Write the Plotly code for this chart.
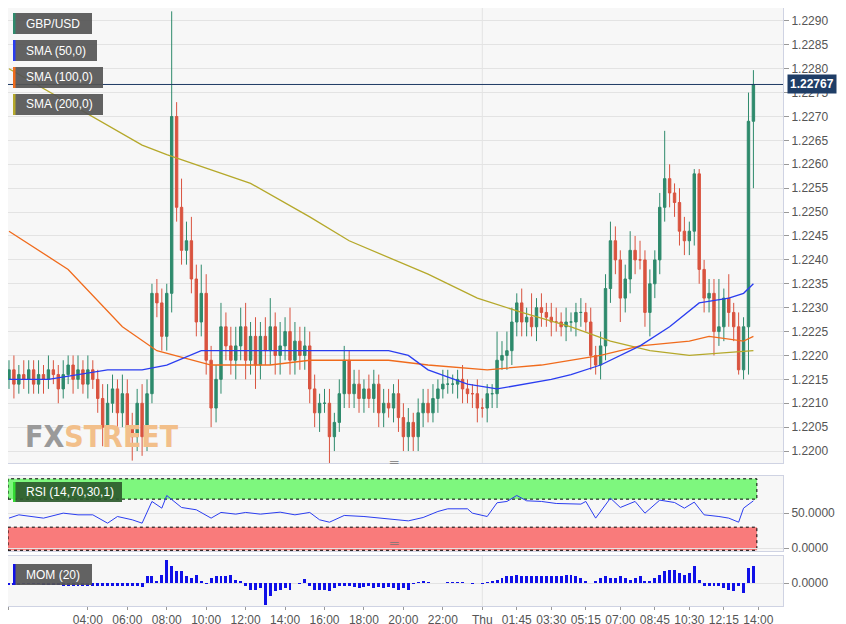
import plotly.graph_objects as go
from plotly.subplots import make_subplots

close = [1.2217,1.2214,1.2216,1.2215,1.2217,1.2214,1.2216,1.2215,1.2217,1.2216,1.2213,1.2216,1.2218,1.2215,1.2217,1.2214,1.2217,1.2215,
         1.2211,1.2205,1.2210,1.2213,1.2208,1.2212,1.2205,1.2203,1.2210,1.2203,
         1.2212,1.2233,1.2231,1.2224,1.2233,1.2270,1.2251,1.2242,1.2244,1.2236,1.2227,1.2233,1.2219,1.2209,
         1.2215,1.2226,1.2222,1.2219,1.2222,1.2226,1.2219,1.2224,1.2218,1.2224,1.2221,1.2226,1.2220,1.2222,1.2225,1.2219,1.2223,1.2220,1.2222,
         1.2213,1.2208,1.2210,1.2210,1.2203,1.2206,1.2212,1.2219,1.2212,1.2214,1.2211,1.2213,1.2211,1.2214,1.2208,1.2210,1.2209,1.2212,1.2207,1.2203,1.2206,1.2203,1.2208,1.2210,
         1.2208,1.2211,1.2213,1.2214,1.2214,1.2214,1.2215,1.2213,1.2212,1.2212,1.2209,1.2209,1.2212,1.2212,
         1.2219,1.2220,1.2221,1.2227,1.2231,1.2227,1.2228,1.2226,1.2230,1.2229,1.2228,1.2227,1.2227,1.2226,1.2227,1.2227,1.2229,1.2229,1.2227,1.2220,1.2218,1.2222,
         1.2234,1.2244,1.2240,1.2232,1.2236,1.2242,1.2240,1.2240,1.2229,1.2235,1.2240,1.2251,1.2257,1.2254,1.2252,1.2246,1.2244,1.2246,1.2258,1.2238,1.2232,1.2233,1.2225,1.2226,1.2232,1.2229,1.2226,1.2217,1.2226,1.2269,1.22767]
first_open = 1.2215
upper_wick_pips = [2,3,2,3,2,2,3,2,3,2,2,3,2,2,3,2,3,2,
                   2,3,4,3,2,4,3,3,3,4,
                   3,2,3,3,2,22,3,6,4,5,3,6,4,3,
                   3,5,3,4,4,4,5,3,4,3,4,6,3,5,3,5,4,3,4,
                   3,3,2,3,3,2,3,3,2,3,3,2,3,3,2,3,3,2,3,3,3,2,3,3,
                   3,3,2,3,3,2,2,3,2,2,3,2,2,2,
                   6,3,4,3,2,3,2,5,2,3,2,3,3,2,3,2,2,3,2,3,2,3,
                   3,4,3,2,3,4,3,4,2,3,2,3,10,3,2,3,3,2,1,1,2,3,3,10,2,5,2,3,2,6,3]
lower_wick_pips = [2,3,2,2,3,2,2,3,2,2,3,2,2,3,2,2,3,2,
                   3,4,4,2,3,3,3,5,3,4,
                   3,2,3,3,3,4,3,3,3,3,3,3,3,4,
                   3,3,3,3,4,3,4,3,5,3,3,3,4,4,3,3,3,3,3,
                   3,3,4,2,6,3,2,3,3,3,3,3,2,3,3,3,2,3,3,3,3,3,3,3,
                   2,2,3,2,2,2,3,3,2,3,3,2,3,3,
                   3,2,3,3,3,3,3,2,3,3,2,3,2,2,3,2,3,3,2,3,2,3,
                   3,3,3,5,3,3,3,2,3,5,3,3,3,3,3,3,3,3,3,3,3,3,5,3,3,3,3,1,2,10,14]

sma50_bars = [0,8,20,27,32,39,51,61,67,77,81,85,93,99,110,114,120,128,134,140,146,149,151]
sma50_vals = [1.2215,1.2215,1.2217,1.2217,1.2218,1.2221,1.2221,1.2221,1.2221,1.2221,1.2220,1.2217,1.2214,1.2213,1.2215,1.2216,1.2218,1.2222,1.2226,1.2231,1.2232,1.2233,1.2235]
sma100_bars = [0,12,23,30,41,53,61,77,85,97,108,120,128,138,142,149,151]
sma100_vals = [1.2246,1.2238,1.2226,1.2221,1.2218,1.2218,1.2219,1.2219,1.2218,1.2217,1.2218,1.2220,1.2222,1.2223,1.2224,1.2223,1.2224]
sma200_bars = [0,27,32,49,61,69,85,95,104,114,122,130,138,151]
sma200_vals = [1.2280,1.2264,1.2262,1.2256,1.2249,1.2244,1.2237,1.2232,1.2229,1.2226,1.2223,1.2221,1.2220,1.2221]

rsi_bars = [0,2,7,11,14,17,20,22,25,27,29,31,32,35,38,41,43,46,48,51,55,58,61,63,65,68,72,76,81,84,87,89,93,94,97,99,101,103,105,108,111,116,117,119,122,124,127,129,132,135,137,139,141,144,146,148,149,151]
rsi_vals = [42.9,47.6,42.9,50,47.6,47.6,35.7,45.2,40.5,35.7,66.7,57.1,75.2,58.1,54.8,42.9,51,48.6,51,48.6,51.4,47.6,51,40.5,37.1,46.7,45.2,42.9,39,43.8,52.4,56.2,56.2,50,45.2,64.8,66.7,75.2,67.6,66.7,63.8,62.9,66.7,42.9,71.4,58.1,66.7,50,68.6,65.2,57.1,65.7,47.6,45.2,42.9,37.1,57.1,67.6]

mom_pips = [-5,-5,-5,-3,-3,-3,-3,-5,-5,-5,-5,-8,-8,-8,-8,-8,-8,-10,-10,-10,-10,-10,-8,-10,-8,-10,-8,-12,
            20,20,5,25,70,50,35,35,20,15,25,5,-3,15,20,20,20,25,10,5,-10,-20,-20,-15,-65,
            -40,-25,-20,-15,-20,0,-3,12,-10,-20,-20,-20,-25,-15,
            -10,-10,-8,-12,-15,-12,-10,-15,-12,-15,-12,-15,-20,-15,-20,
            -2,3,5,3,0,0,0,3,3,3,3,0,-3,0,-3,2,
            5,10,15,20,20,25,22,20,20,20,20,20,20,20,22,25,25,20,15,5,0,
            5,15,20,15,15,20,15,10,15,20,5,5,15,25,35,40,40,30,25,30,50,
            10,-10,-10,-10,-10,-15,-20,-25,-10,-30,45,50]

tick_bars = [0,16,24,32,40,48,56,64,72,80,88,96,103,110,117,124,131,138,145,152]
tick_text = ["Wed","04:00","06:00","08:00","10:00","12:00","14:00","16:00","18:00","20:00","22:00","Thu","01:45","03:30","05:15","07:00","08:45","10:30","12:15","14:00"]
price_ticks = [1.2200,1.2205,1.2210,1.2215,1.2220,1.2225,1.2230,1.2235,1.2240,1.2245,1.2250,1.2255,1.2260,1.2265,1.2270,1.2275,1.2280,1.2285,1.2290]
last_price = 1.22767

n = len(close)
bars = list(range(n))
opens = [first_open] + close[:-1]
highs = [max(o, c) + u * 0.0001 for o, c, u in zip(opens, close, upper_wick_pips)]
lows = [min(o, c) - l * 0.0001 for o, c, l in zip(opens, close, lower_wick_pips)]
mom = [m * 0.0001 for m in mom_pips]

fig = make_subplots(rows=3, cols=1, shared_xaxes=False)
GREEN = "#2e8a6c"; RED = "#d9533f"
fig.add_trace(go.Candlestick(x=bars, open=opens, high=highs, low=lows, close=close,
    increasing=dict(line=dict(color=GREEN, width=1), fillcolor=GREEN),
    decreasing=dict(line=dict(color=RED, width=1), fillcolor=RED),
    whiskerwidth=0, showlegend=False), row=1, col=1)
fig.add_trace(go.Scatter(x=sma200_bars, y=sma200_vals, mode="lines", line=dict(color="#b5a82a", width=1.3), showlegend=False), row=1, col=1)
fig.add_trace(go.Scatter(x=sma100_bars, y=sma100_vals, mode="lines", line=dict(color="#f06b1c", width=1.3), showlegend=False), row=1, col=1)
fig.add_trace(go.Scatter(x=sma50_bars, y=sma50_vals, mode="lines", line=dict(color="#2a3df0", width=1.3), showlegend=False), row=1, col=1)
fig.add_trace(go.Scatter(x=rsi_bars, y=rsi_vals, mode="lines", line=dict(color="#2a3df0", width=1), showlegend=False), row=2, col=1)
fig.add_trace(go.Bar(x=bars, y=mom, marker=dict(color="#1010e8", line=dict(width=0)), width=0.6, showlegend=False), row=3, col=1)

xr = [-0.2, 157.0]
grid = "#e3e3e3"
axfont = dict(family="Liberation Sans, Arial", size=12, color="#555")
common_x = dict(range=xr, showgrid=False, zeroline=False, tickvals=[96], showticklabels=False,
                showline=True, linecolor="#cfd3e3", mirror=True)
PW, PH = 775.0, 598.0
fig.update_layout(
    width=846, height=624, margin=dict(l=0, r=71, t=0, b=26),
    paper_bgcolor="white", plot_bgcolor="#f7f7f7", bargap=0,
    xaxis=dict(common_x, domain=[0, 1], rangeslider=dict(visible=False), anchor="y"),
    xaxis2=dict(common_x, domain=[0, 1], anchor="y2"),
    xaxis3=dict(range=xr, domain=[0, 1], anchor="y3", showgrid=False, zeroline=False,
                tickvals=tick_bars, ticktext=tick_text, tickfont=axfont, ticks="outside", ticklen=3,
                tickcolor="#999", showline=True, linecolor="#cfd3e3", mirror=True),
    yaxis=dict(domain=[1 - 455 / PH, 1], range=[1.21975, 1.22927], side="right", tickvals=price_ticks,
               tickformat=".4f", tickfont=axfont, gridcolor=grid, zeroline=False, ticks="outside",
               ticklen=5, tickcolor="#999", showline=True, linecolor="#cfd3e3", mirror=True),
    yaxis2=dict(domain=[1 - 543 / PH, 1 - 468 / PH], range=[-4, 103], side="right", tickvals=[0, 50],
                ticktext=["0.0000", "50.0000"], tickfont=axfont, gridcolor=grid, zeroline=False,
                ticks="outside", ticklen=5, tickcolor="#999", showline=True, linecolor="#cfd3e3", mirror=True),
    yaxis3=dict(domain=[0, 1 - 548 / PH], range=[-0.0069, 0.0081], side="right", tickvals=[0],
                ticktext=["0.0000"], tickfont=axfont, gridcolor=grid, zeroline=False,
                ticks="outside", ticklen=5, tickcolor="#999", showline=True, linecolor="#cfd3e3", mirror=True),
)
for xa, ya in [("x", "y domain"), ("x2", "y2 domain"), ("x3", "y3 domain")]:
    fig.add_shape(type="line", xref=xa, yref=ya, x0=96, x1=96, y0=0, y1=1, line=dict(color=grid, width=1), layer="below")

fig.add_shape(type="rect", xref="x2", yref="y2", x0=xr[0], x1=151.7, y0=70, y1=99, fillcolor="#7ef77e",
              line=dict(color="black", width=1, dash="dot"), layer="below")
fig.add_shape(type="rect", xref="x2", yref="y2", x0=xr[0], x1=151.7, y0=-3, y1=30, fillcolor="#f97b7b",
              line=dict(color="black", width=1, dash="dot"), layer="below")

fig.add_shape(type="line", xref="x domain", yref="y", x0=0, x1=1, y0=last_price, y1=last_price,
              line=dict(color="#1e3a64", width=1))
fig.add_annotation(xref="x domain", yref="y", x=1.005, y=last_price, text="<b>1.22767</b>", showarrow=False,
                   xanchor="left", bgcolor="#1f3d66", font=dict(color="white", size=12, family="Liberation Sans, Arial"),
                   borderpad=2)

def label(x0, y0, w, h, text, barcolor, bg="#555555"):
    fig.add_shape(type="rect", xref="paper", yref="paper", x0=x0 / PW, x1=(x0 + w) / PW,
                  y0=1 - (y0 + h) / PH, y1=1 - y0 / PH, fillcolor=bg, opacity=0.92, line=dict(width=0))
    fig.add_shape(type="rect", xref="paper", yref="paper", x0=x0 / PW, x1=(x0 + 2.5) / PW,
                  y0=1 - (y0 + h) / PH, y1=1 - y0 / PH, fillcolor=barcolor, line=dict(width=0))
    fig.add_annotation(xref="paper", yref="paper", x=(x0 + 11) / PW, y=1 - (y0 + h / 2) / PH, text=text,
                       showarrow=False, xanchor="left", yanchor="middle",
                       font=dict(color="white", size=12, family="Liberation Sans, Arial"))

label(5, 5, 79, 21, "GBP/USD", "#2e8a6c")
label(5, 32, 84, 21, "SMA (50,0)", "#2a3df0")
label(5, 59, 90, 21, "SMA (100,0)", "#f06b1c")
label(5, 86, 90, 21, "SMA (200,0)", "#b5a82a")
label(5, 474, 109, 20, "RSI (14,70,30,1)", "#33dd33", bg="#2d5a2d")
label(5, 556, 79, 21, "MOM (20)", "#1010e8")

fig.add_annotation(xref="paper", yref="paper", x=15 / PW, y=1 - 428 / PH, xanchor="left", yanchor="middle",
                   text="<span style='color:#9a9a9a'>FX</span><span style='color:#f2bf8a'>STREET</span>",
                   showarrow=False, font=dict(size=30, family="DejaVu Sans Condensed, Liberation Sans Narrow", weight="bold"))
for yp in [464, 545]:
    fig.add_annotation(xref="paper", yref="paper", x=386 / PW, y=1 - yp / PH, text="═", showarrow=False,
                       font=dict(size=12, color="#777"))

fig.write_html("out.html")
